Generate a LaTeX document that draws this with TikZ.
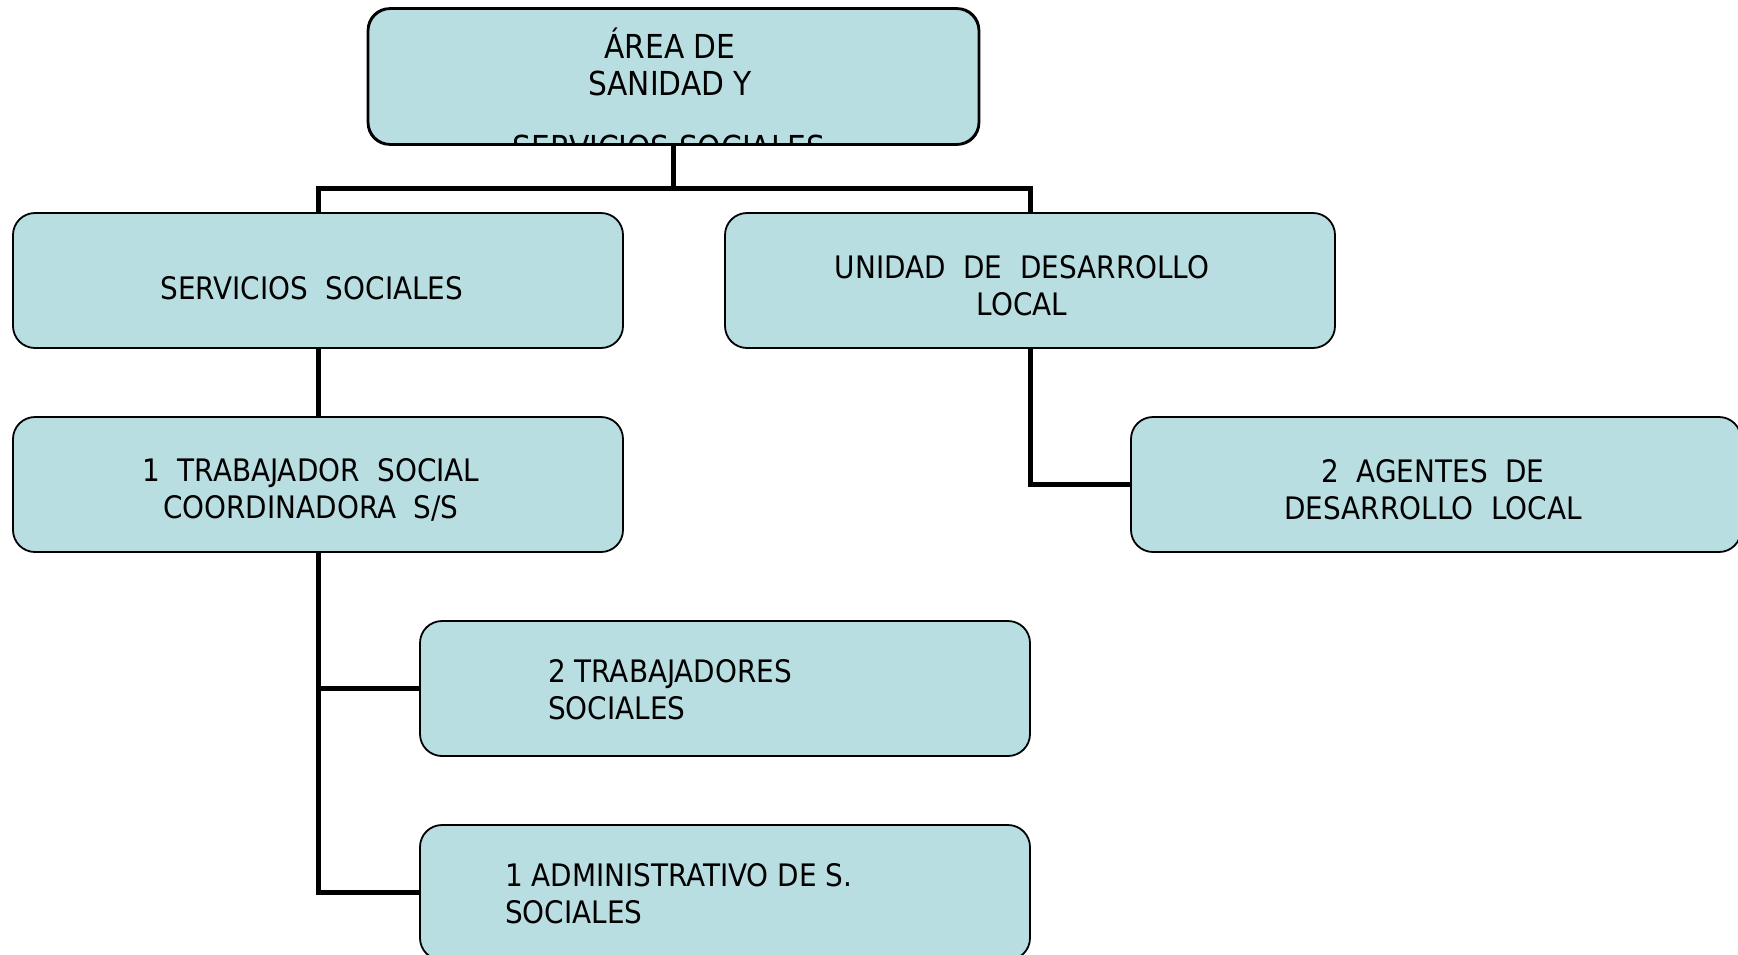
\documentclass[tikz,border=0pt]{standalone}
\usepackage{fontspec}
\setmainfont{DejaVu Sans Condensed}
\definecolor{boxfill}{RGB}{184,222,226}
\begin{document}
\begin{tikzpicture}[x=1pt,y=-1pt,
  orgbox/.style={draw=black,line width=1.8pt,fill=boxfill,rounded corners=22pt,minimum width=610pt,minimum height=135pt,inner sep=0pt},
  lbl/.style={font=\fontsize{31}{37}\selectfont,inner sep=0pt},
  toplbl/.style={font=\fontsize{33}{37}\selectfont,inner sep=0pt},
  conn/.style={line width=5pt,black}]
\useasboundingbox (0,0) rectangle (1738,954);
% boxes
\node[orgbox] (top) at (673.5,76.5) {};
\node[orgbox] (ss) at (318,280.5) {};
\node[orgbox] (udl) at (1030,280.5) {};
\node[orgbox] (ts) at (318,484.5) {};
\node[orgbox] (adl) at (1436,484.5) {};
\node[orgbox] (tss) at (725,688.5) {};
\node[orgbox] (adm) at (725,892.5) {};
% connectors
\coordinate (bus) at (673.5,188);
\draw[conn] (top.south) -- (bus);
\draw[conn] (ss.north) |- (bus) -| (udl.north);
\draw[conn] (ss.south) -- (ts.north);
\draw[conn] (udl.south) |- (adl.west);
\draw[conn] (ts.south) |- (tss.west);
\draw[conn] (ts.south) |- (adm.west);
% top text (third line clipped by the box)
\node[toplbl,align=center] (toptxt) at (670,62) {ÁREA DE\\SANIDAD Y};
\begin{scope}
\clip (top.south west) rectangle (top.north east);
\node[toplbl] (topclip) at (669,147) {SERVICIOS SOCIALES};
\end{scope}
\draw[line width=1.8pt,rounded corners=22pt] (top.south west) rectangle (top.north east);
% texts
\node[lbl] (sstxt) at (312,288) {SERVICIOS\ \ SOCIALES};
\node[lbl,align=center] (udltxt) at (1022,286) {UNIDAD\ \ DE\ \ DESARROLLO\\LOCAL};
\node[lbl,align=center] (tstxt) at (311,489.5) {1\ \ TRABAJADOR\ \ SOCIAL\\COORDINADORA\ \ S/S};
\node[lbl,align=center] (adltxt) at (1433,489.5) {2\ \ AGENTES\ \ DE\\DESARROLLO\ \ LOCAL};
\node[lbl,align=left,anchor=west] (tsstxt) at (548,690) {2 TRABAJADORES\\SOCIALES};
\node[lbl,align=left,anchor=west] (admtxt) at (505,894) {1 ADMINISTRATIVO DE S.\\SOCIALES};
\end{tikzpicture}
\end{document}
